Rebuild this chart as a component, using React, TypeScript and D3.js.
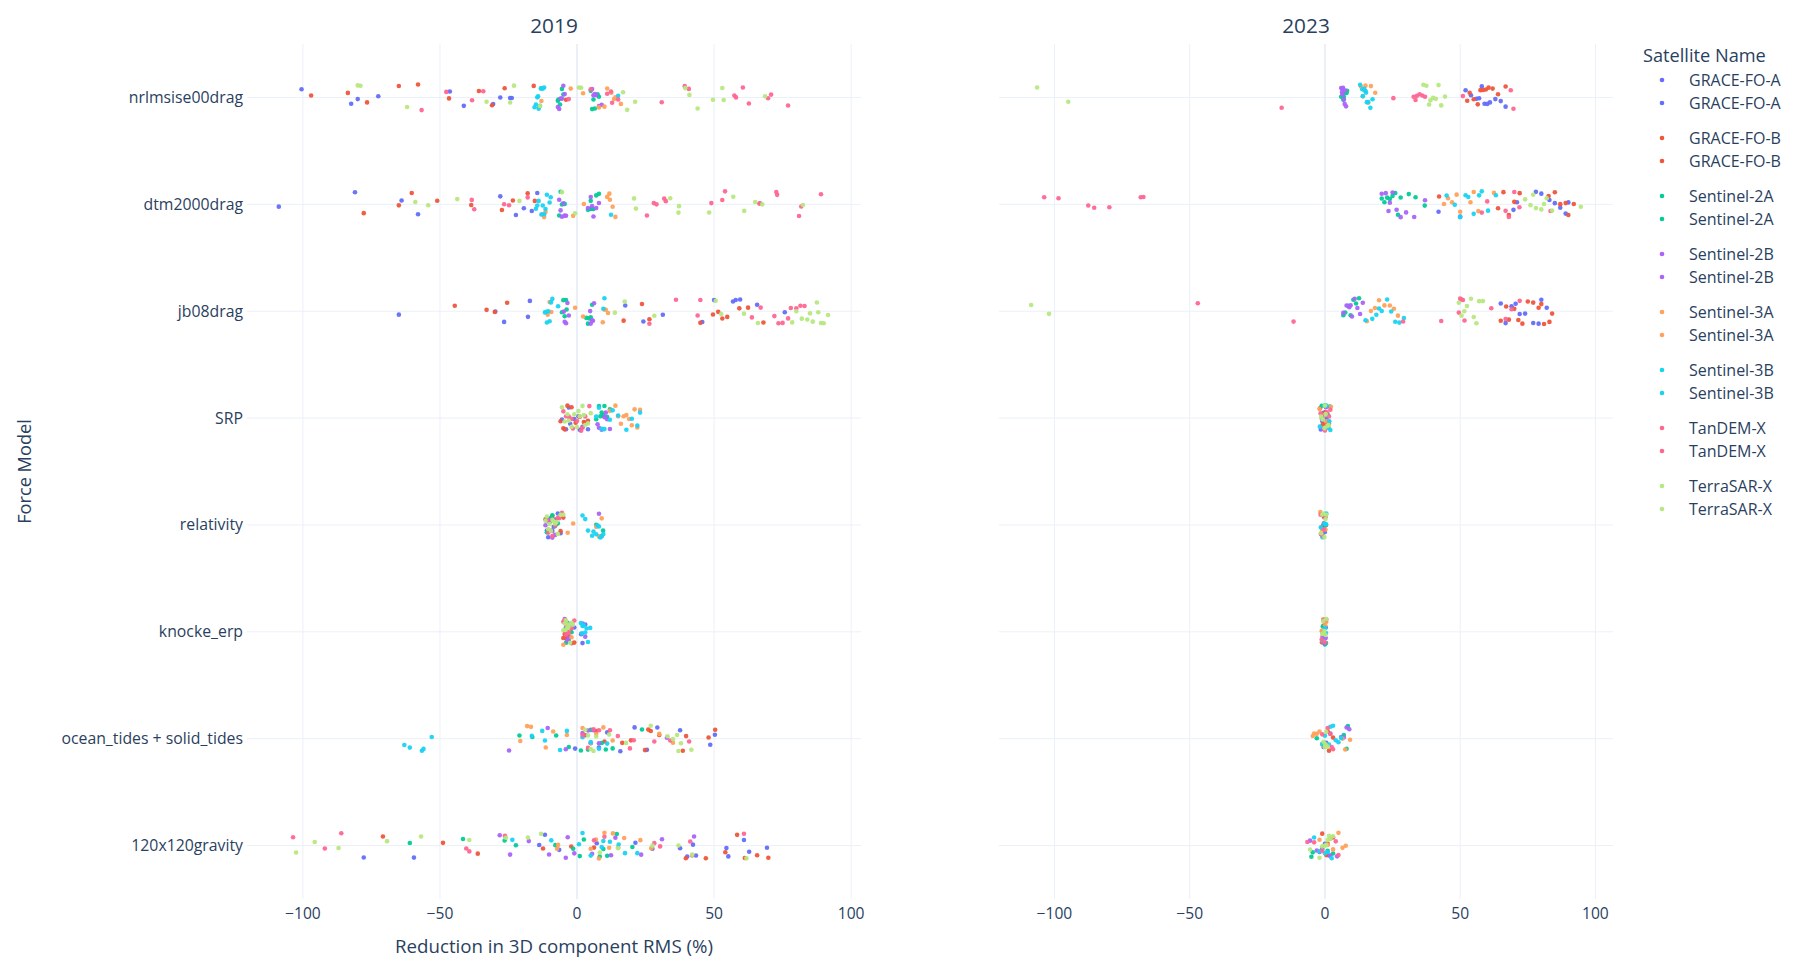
import React from "react";
import * as d3 from "d3";

// ---------- data ----------
const MODELS = [
  "nrlmsise00drag",
  "dtm2000drag",
  "jb08drag",
  "SRP",
  "relativity",
  "knocke_erp",
  "ocean_tides + solid_tides",
  "120x120gravity",
];
const SATELLITES = [
  "GRACE-FO-A",
  "GRACE-FO-B",
  "Sentinel-2A",
  "Sentinel-2B",
  "Sentinel-3A",
  "Sentinel-3B",
  "TanDEM-X",
  "TerraSAR-X",
];
const COLORS = ["#636efa", "#EF553B", "#00cc96", "#ab63fa", "#FFA15A", "#19d3f3", "#FF6692", "#B6E880"];
const YEARS = ["2019", "2023"];
const X_TICKS = [-100, -50, 0, 50, 100];
const X_DOMAIN_2019 = [-120.4, 103.6];
const X_DOMAIN_2023 = [-120.5, 106.5];

// values per model (order of MODELS), % reduction in 3D RMS
const graceA2019 = [
  [-100.5, -82.4, -80, -72.5, -46.4, -41.3, -30.6, -28, -24.4, -23.8],
  [-108.8, -81, -64, -58, -28, -22.3, -19.4, -16.5, -14.5, 5],
  [-65, -29.8, -26.6, -17.9, -17.2, 17.6, 24.2, 31.3, 45.7, 50, 56.9, 57.9, 59.5, 65.7, 75.8],
  [-5.5, -4, -2.5, -1, 0.5, 2, 3.5, -3, 1, 4],
  [-11, -10, -9, -8, -7, -6, -10.5, -8.5],
  [-4, -3, -2, -1, 2, 3, -3.5, 1.5],
  [-0.7, 5, 8, 11, 15.8, 21, 25.5, 29.3, 37.6, 48.6, 50.3],
  [-77.8, -59.5, -13.8, -11.7, -6.5, 7.2, 21.3, 27.5, 37.6, 40.2, 42.3, 43.4, 54.5, 55.2, 60.9, 62.8, 69.3],
];
const graceB2019 = [
  [-97, -83.6, -76.6, -65, -58, -46.7, -35.8, -31, -26.4, -15.8, -4],
  [-77.8, -65, -60.3, -51, -38.6, -27.4, -23.4, -18, -15.4],
  [-44.6, -33, -30, -25.5, 17, 23.7, 26.4, 45, 49.6, 51.5, 53, 54.8, 59.2, 62.4, 68],
  [-6, -5, -3.5, -2, -0.5, 1, 2.5, 4, -4.5, 3],
  [-11.5, -10, -9, -7.5, -6, -5, -9.5, -8],
  [-5, -4, -3, -2, -1, -4.5, -2.5],
  [3, 7, 10, 16.5, 19.7, 24.8, 26, 26.9, 30, 38.6, 39.8, 48, 50.4],
  [-70.8, -48.9, -36.2, -12.4, -2.1, 6.2, 39.7, 47, 54.1, 58.4, 61.2, 65.7, 69.8],
];
const sentinel2A2019 = [
  [-6.2, -5.5, -6.8, -5, -7, 5, 6, 7.5, 8, 6.5, 5.5],
  [-6, -5, -5.5, -4.5, -6.5, 4, 5.5, 6, 7, 8, 5],
  [-5.5, -4.5, -4, -5, -3.8, 3.4, 4, 4.5, 5, 5.5],
  [7, 8, 9, 10, 11, 12, 8.5, 9.5],
  [-11, -9, -7, -10, -8, 7, 8.5, 9.5],
  [-4, -3, -2, -4.5, -3.5],
  [-21, -16.3, -7.6, -3, 1.4, 4, 5, 9, 10.5, 13, 23.7],
  [-61, -41.6, -26.4, -22.3, -7.9, -1.4, 1, 2.5, 8.3, 9.6, 11, 14.5, 20.2],
];
const sentinel2B2019 = [
  [-7, -6, -5, -6.5, -5.5, -4.5, 5.5, 6.5, 7, 8, 9, 6],
  [-6, -5, -4, -5.5, -4.5, -6.5, 4, 5, 6, 7, 8, 5.5],
  [-4.8, -3, -4, -3.5, -4.5, 4.8, 5.5, 6.2, 5, 5.8],
  [7.5, 9, 10, 11, 12, 8, 10.5],
  [-11.5, -10, -9, -8, 8, 9],
  [-4.5, -3.5, 2, 3, -3],
  [-24.8, -10.7, -4.1, 2, 4, 6, 8, 32.8],
  [-28.2, -24.4, -17.6, -10.2, -4.1, -3.4, -1, 5.5, 12.4, 14, 23.4, 31, 42.7],
];
const sentinel3A2019 = [
  [-13.8, -13, -2.3, 2.2, 8, 10, 11, 12.5, 13.5, 16, 14],
  [-12.7, -12, -11.5, -1.4, 2.5, 11, 12, 13, 14, 11.8],
  [-10.7, -10, -9.4, -0.7, 2.2, 9.4, 10, 11.3, 10.5],
  [12, 14, 15, 16, 17, 18, 19, 20, 21, 22, 23],
  [-3.4, -1.4, 7, 8, 9],
  [-5, -4, -3, -2, -4.5],
  [-20.7, -18.2, -16.8, -11.4, -8.7, -3.7, 2, 5, 7, 9.6, 13, 30, 35],
  [-7.3, -6.9, 5, 6.9, 8, 10, 11.7, 13.1, 15, 17.2, 23.1, 27.1],
];
const sentinel3B2019 = [
  [-15, -14, -13, -12.5, -14.5, -13.5, -12, -15.5, -14.2, -13.2, 15],
  [-15, -14, -13, -12, -11, -10, -9.6, -14.5, -12.5, -11.5, 12.4],
  [-11.7, -11, -10.5, -10, -9, -11.2, -9.5, -6.9, 9.6, 10],
  [7, 8, 9, 10, 12, 13, 15, 18, 20, 22, 23],
  [2, 3, 4, 5.5, 6, 7, 7.5, 8, 8.5, 9, 9.6],
  [1.4, 1.8, 2, 2.5, 3, 3.5, 4, 4.8],
  [-63, -61, -56.6, -56, -53, -16.5, -12.7, -11.7, -6.2, -3.7, 2, 5, 8, 11],
  [-23.6, -9.4, 0.7, 2, 5, 9, 9.6, 12, 15.2, 17.5, 22],
];
const tandemX2019 = [
  [-56.7, -47.7, -38.3, -34.2, -3, 5, 11, 12.4, 12.8, 15, 30.9, 39.3, 40.8, 57.4, 58, 60.5, 62.7, 69.7, 70.8, 77],
  [-38.4, -37.5, -26.6, -24.8, -18, 25.5, 28, 29, 31.8, 32.4, 49, 53, 54, 66.5, 66.8, 72.7, 73, 81, 81.8, 89],
  [26.4, 36.1, 44, 45, 63.8, 67, 72, 73.5, 75, 77, 78, 80, 81.5, 83],
  [-5, -4, -3, -1.5, 0, 1.5, 3, 4.5, -2, 2],
  [-11, -10.5, -9, -8, -6.5, -5.5, -7],
  [-5, -4, -3, -2, -1, -3.5],
  [2, 4, 6, 8, 12, 14.9, 19.3, 20.7, 28.2, 34, 40.9],
  [-103.6, -92, -86, -40.4, -39.3, -26.3, 6.2, 10, 28.2, 30.3, 41.3, 42, 60.9],
];
const terrasarX2019 = [
  [-80, -79, -62, -33, -24.4, -23, -13.5, 0.7, 1.5, 16.8, 18.3, 21.2, 39.5, 41, 44, 49.6, 53, 53.5, 68.6],
  [-59, -54.3, -43.7, -21, -5.5, -0.7, 20.8, 21.5, 34, 37, 37.2, 48.2, 57, 61, 65, 67.6, 82.4],
  [13.8, 17.4, 28.2, 50.6, 52.6, 60.9, 66, 78.5, 80, 82, 84, 85, 86, 87.5, 88, 89, 90, 91.6],
  [-5.5, -4.5, -3, -2, -1, 0, 1, 2, 3, 4, 5, -3.5, 0.5, 2.5],
  [-11.5, -11, -10, -9.5, -9, -8, -7, -6, -5, -10.5, -8.5, -7.5],
  [-5, -4.5, -4, -3.5, -3, -2.5, -2, -1.5, -4.2, -3.2],
  [3, 4, 5, 6, 7, 11.7, 17.9, 26.9, 33, 35, 36.5, 37, 37.9, 41.7],
  [-102.5, -95.7, -87, -69.3, -56.9, -39.3, -25.9, -17.9, -13.1, 8.3, 15, 27.5, 37, 42, 61.8],
];

const graceA2023 = [
  [52, 54, 56, 57, 58, 59, 60, 61, 63, 65, 66.8],
  [42, 50, 69.7, 71, 78, 80, 83, 85, 87, 89, 90],
  [65, 66.8, 69, 70.5, 72, 74, 77, 79, 80, 82],
  [-1.5, -0.5, 0.5, 1.2, -1, 0.8],
  [-1.2, -0.6, 0, 0.4],
  [-1, -0.4, 0.3],
  [-0.5, 0.5, 2],
  [-2, 0, 1.5, -1],
];
const graceB2023 = [
  [52.6, 53.5, 55, 56.5, 57.5, 58.5, 59.5, 60.5, 62, 64, 66.8],
  [42.2, 64, 66, 68, 70, 72, 82.7, 85, 87, 89, 90, 92],
  [65, 67, 68, 70, 71.5, 73, 75, 77, 79, 80, 81, 83, 84],
  [-1.8, -0.8, 0.2, 1.5, 0.6],
  [-1.5, -0.8, 0.2, -0.3],
  [-1.1, -0.5, 0.2],
  [1, 1.5, 3],
  [-1, 1, 3, 0.5],
];
const sentinel2A2023 = [
  [6, 6.5, 7, 7.5, 8, 8.2, 6.8],
  [21, 22, 23, 24, 25, 26, 27, 28, 31, 33.5, 36.9],
  [6.8, 7.5, 8.5, 9.5, 10.5, 11.5, 12.6],
  [-1.2, 0, 1, 1.8],
  [-1, -0.2, 0.3],
  [-0.8, 0, 0.4],
  [7, 8, 8.5, -3],
  [-5, -4.5, 1, 3],
];
const sentinel2B2023 = [
  [6, 6.3, 6.7, 7, 7.3, 7.8, 6.5, 7.5],
  [21, 22.5, 23.5, 24, 25, 26.5, 28, 30, 33, 37],
  [6.8, 8, 9, 9.5, 10, 11, 12, 13, 14],
  [-1, 0.4, 1.5],
  [-1.3, -0.4, 0.2],
  [-0.9, -0.2, 0.3],
  [6, 7, 8, 9],
  [-5.5, -3, 2, 4.5],
];
const sentinel3A2023 = [
  [13.3, 14, 14.5, 15, 16, 17, 18.6],
  [44, 45.5, 47, 48.7, 50, 53.8, 55, 56.7, 62.5],
  [15.5, 17, 18.5, 20, 22, 24, 25.5, 27],
  [-2, -1.2, -0.3, 0.6, 1.4, 2.2],
  [-1.7, -1, -0.5, 0.2],
  [-1.2, -0.6, 0.1, 0.5],
  [-4.5, -4, -3, -2, -1, 6.5, 7.5, 9.3],
  [-2, 1, 3, 5, 6.5, 7.7],
];
const sentinel3B2023 = [
  [13, 13.8, 14, 14.5, 15, 15.2, 15.5, 16, 16.8, 17.6],
  [45, 48, 50, 52, 53, 55, 57, 58, 60.3, 63.2],
  [15, 17.5, 19, 20, 21, 23, 24.5, 26, 27.5, 29.2],
  [-1.9, -1, -0.2, 0.5, 1.2, 2, 1.6],
  [-1.5, -0.9, -0.2, 0.4, 0.5],
  [-1, -0.5, 0, 0.4],
  [-1, 0, 1.5, 2, 3, 4, 5, 6],
  [-4, -2, 0, 1, 2.5],
];
const tandemX2023 = [
  [-16, 25.3, 32.8, 33.5, 34, 35, 36, 37, 51, 68.7, 69.7],
  [-103.8, -98.5, -87.5, -85.3, -79.7, -68.1, -67.1, 58, 60, 66.8, 68, 70, 71.9, 83.4],
  [-47, -11.6, 28.9, 43, 49.5, 50, 50.5, 51, 51.6, 61.5, 66.8, 69, 72],
  [-1.6, -0.9, 0, 0.7, 1.5, 2],
  [-1.6, -1, -0.4, 0.3],
  [-1.2, -0.6, 0, 0.5],
  [-1, 1, 2, 2.5, 3],
  [-6.5, -4, -1, 2, 4, 5],
];
const terrasarX2023 = [
  [-106.4, -94.9, 36.4, 37.5, 38.5, 39, 40, 41, 42, 43, 44.4],
  [74, 76, 77, 78, 80, 81, 82, 84, 94.6],
  [-108.6, -102, 49.5, 50.5, 51.5, 52.5, 54, 55, 56, 57, 58.4],
  [-1.4, -0.8, -0.2, 0.3, 0.9, 1.4, 0],
  [-1.4, -1, -0.6, -0.2, 0.2, 0.5],
  [-1, -0.6, -0.2, 0.2, 0.5],
  [-0.5, 0, 0.2, 0.5, 1],
  [-5.5, -2, -1, 0, 0.5, 1, 1.5, 2, 3],
];

const DATA_2019 = [graceA2019, graceB2019, sentinel2A2019, sentinel2B2019, sentinel3A2019, sentinel3B2019, tandemX2019, terrasarX2019];
const DATA_2023 = [graceA2023, graceB2023, sentinel2A2023, sentinel2B2023, sentinel3A2023, sentinel3B2023, tandemX2023, terrasarX2023];

// ---------- layout ----------
const W = 1800;
const H = 973;
const PLOT_TOP = 44;
const PLOT_BOTTOM = 899;
const PANELS = [
  { year: YEARS[0], x0: 247, x1: 861, domain: X_DOMAIN_2019, data: DATA_2019 },
  { year: YEARS[1], x0: 999, x1: 1613, domain: X_DOMAIN_2023, data: DATA_2023 },
];
const FONT = '"Open Sans", verdana, arial, sans-serif';
const TEXT = "#2a3f5f";
const GRID = "#EBF0F8";
const JITTER_PX = 13;

// deterministic jitter (plotly strip jitter is random; we use a hash of the point index)
function jitter(k: number): number {
  const s = Math.sin(k * 12.9898 + 78.233) * 43758.5453;
  return s - Math.floor(s) - 0.5;
}

const fmt = (v: number) => (v < 0 ? "\u2212" + Math.abs(v) : String(v));

export default function App() {
  const y = d3.scalePoint<string>().domain(MODELS).range([PLOT_TOP, PLOT_BOTTOM]).padding(0.5);

  const panels = PANELS.map((p, pi) => {
    const x = d3.scaleLinear().domain(p.domain).range([p.x0, p.x1]);
    const pts: { cx: number; cy: number; color: string; key: string }[] = [];
    p.data.forEach((sat, si) => {
      sat.forEach((vals, mi) => {
        vals.forEach((v, i) => {
          const k = pi * 100000 + si * 10000 + mi * 100 + i;
          pts.push({
            cx: x(v),
            cy: (y(MODELS[mi]) as number) + jitter(k) * 2 * JITTER_PX,
            color: COLORS[si],
            key: `${pi}-${si}-${mi}-${i}`,
          });
        });
      });
    });
    return { ...p, x, pts };
  });

  // legend
  const legendItems: { name: string; color: string; cy: number }[] = [];
  SATELLITES.forEach((s, si) => {
    YEARS.forEach((_, yi) => {
      legendItems.push({ name: s, color: COLORS[si], cy: 80 + si * 58 + yi * 23 });
    });
  });

  const leftPanel = panels[0];

  return (
    <svg
      width={W}
      height={H}
      style={{ position: "absolute", left: 0, top: 0, background: "#fff" }}
      fontFamily={FONT}
    >
      <rect x={0} y={0} width={W} height={H} fill="#fff" />
      {panels.map((p, pi) => (
        <g key={p.year}>
          {/* horizontal category grid */}
          {MODELS.map((m) => (
            <line key={m} x1={p.x0} x2={p.x1} y1={y(m)} y2={y(m)} stroke={GRID} strokeWidth={1} />
          ))}
          {/* vertical grid */}
          {X_TICKS.map((t) => (
            <line
              key={t}
              x1={p.x(t)}
              x2={p.x(t)}
              y1={PLOT_TOP}
              y2={PLOT_BOTTOM}
              stroke={GRID}
              strokeWidth={t === 0 ? 2 : 1}
            />
          ))}
          {/* x tick labels */}
          {X_TICKS.map((t) => (
            <text key={"l" + t} x={p.x(t)} y={919} textAnchor="middle" fontSize={15.6} fill={TEXT}>
              {fmt(t)}
            </text>
          ))}
          {/* facet title */}
          <text x={(p.x0 + p.x1) / 2} y={33} textAnchor="middle" fontSize={20.8} fill={TEXT}>
            {p.year}
          </text>
          {/* points */}
          {p.pts.map((d) => (
            <circle key={d.key} cx={d.cx} cy={d.cy} r={2.3} fill={d.color} fillOpacity={0.95} />
          ))}
          {pi === 0 &&
            MODELS.map((m) => (
              <text key={"y" + m} x={243} y={(y(m) as number) + 5.5} textAnchor="end" fontSize={15.8} fill={TEXT}>
                {m}
              </text>
            ))}
        </g>
      ))}

      {/* axis titles */}
      <text x={(leftPanel.x0 + leftPanel.x1) / 2} y={953} textAnchor="middle" fontSize={18.7} fill={TEXT}>
        Reduction in 3D component RMS (%)
      </text>
      <text
        transform={`translate(31,${(PLOT_TOP + PLOT_BOTTOM) / 2}) rotate(-90)`}
        textAnchor="middle"
        fontSize={18.2}
        fill={TEXT}
      >
        Force Model
      </text>

      {/* legend */}
      <text x={1643} y={62} fontSize={18.2} fill={TEXT}>
        Satellite Name
      </text>
      {legendItems.map((d, i) => (
        <g key={i}>
          <circle cx={1662} cy={d.cy} r={2.3} fill={d.color} />
          <text x={1689} y={d.cy + 5.5} fontSize={16} fill={TEXT}>
            {d.name}
          </text>
        </g>
      ))}
    </svg>
  );
}
